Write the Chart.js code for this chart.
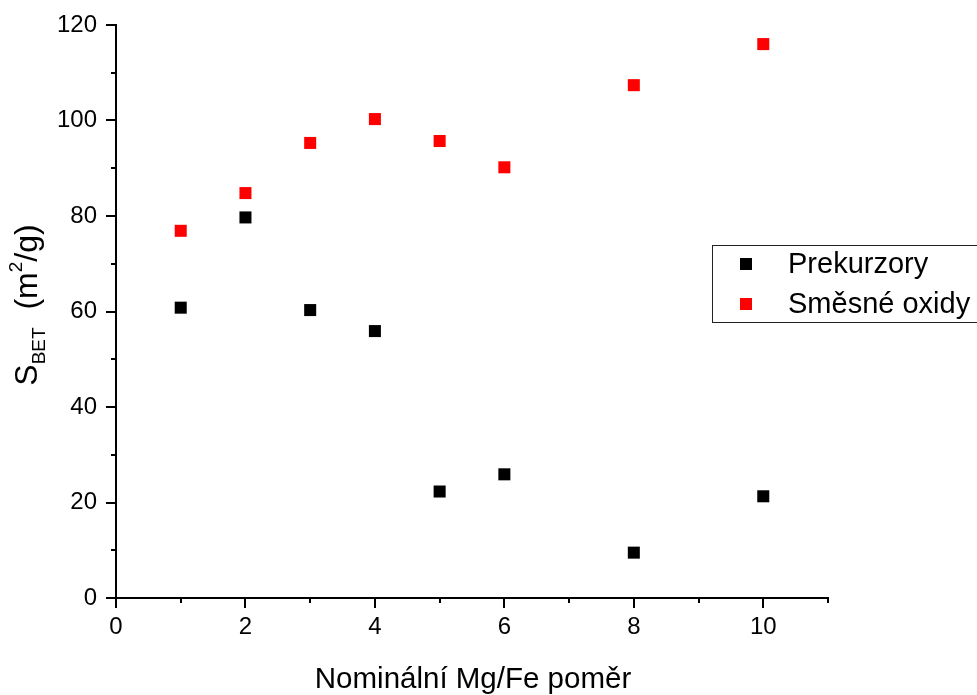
<!DOCTYPE html>
<html>
<head>
<meta charset="utf-8">
<script src="https://cdn.jsdelivr.net/npm/chart.js@4.4.0/dist/chart.umd.min.js"></script>
<style>
  body { margin: 0; background: #fff; }
</style>
</head>
<body>
<canvas id="chartCanvas" width="977" height="695"></canvas>
<script>
"use strict";

const ratios = [1, 2, 3, 4, 5, 6, 8, 10];
const prekurzory = [60.8, 79.7, 60.3, 55.9, 22.3, 25.9, 9.5, 21.3];
const smesneOxidy = [76.9, 84.8, 95.3, 100.3, 95.7, 90.2, 107.4, 116.0];
const seriesLabels = ["Prekurzory", "Směsné oxidy"];
const seriesColors = ["#000000", "#ff0000"];
const xTitle = "Nominální Mg/Fe poměr";

const FONT = "'Liberation Sans', Arial, sans-serif";

function toPoints(xs, ys) {
  return xs.map((x, i) => ({ x: x, y: ys[i] }));
}

// tick marks (major + minor), axis titles and legend box
const decorations = {
  id: "decorations",
  afterDraw(chart) {
    const ctx = chart.ctx;
    const xs = chart.scales.x;
    const ys = chart.scales.y;
    const area = chart.chartArea;

    ctx.save();
    ctx.strokeStyle = "#000";
    ctx.lineWidth = 2;
    ctx.beginPath();
    for (let v = 0; v <= 120; v += 10) {
      const y = Math.round(ys.getPixelForValue(v));
      const len = v % 20 === 0 ? 10 : 5;
      ctx.moveTo(area.left, y);
      ctx.lineTo(area.left - len, y);
    }
    for (let v = 0; v <= 11; v += 1) {
      const x = Math.round(xs.getPixelForValue(v));
      const len = v % 2 === 0 ? 10 : 5;
      ctx.moveTo(x, area.bottom);
      ctx.lineTo(x, area.bottom + len);
    }
    ctx.stroke();

    // x title
    ctx.fillStyle = "#000";
    ctx.font = "29.5px " + FONT;
    ctx.textAlign = "center";
    ctx.textBaseline = "alphabetic";
    ctx.fillText(xTitle, 473, 688);

    // y title: S_BET (m^2/g)
    const big = "32px " + FONT;
    const small = "19px " + FONT;
    const parts = [
      { t: "S", f: big, dy: 0 },
      { t: "BET", f: small, dy: 8 },
      { t: "  (m", f: big, dy: 0 },
      { t: "2", f: small, dy: -15 },
      { t: "/g)", f: big, dy: 0 }
    ];
    let total = 0;
    parts.forEach(p => {
      ctx.font = p.f;
      p.w = ctx.measureText(p.t).width;
      total += p.w;
    });
    ctx.translate(37, 305);
    ctx.rotate(-Math.PI / 2);
    ctx.textAlign = "left";
    let px = -total / 2;
    parts.forEach(p => {
      ctx.font = p.f;
      ctx.fillText(p.t, px, p.dy);
      px += p.w;
    });
    ctx.restore();

    // legend
    ctx.save();
    ctx.strokeStyle = "#222";
    ctx.lineWidth = 1;
    ctx.strokeRect(712.5, 245.5, 290, 77);
    const rows = [264, 304];
    ctx.font = "29px " + FONT;
    ctx.textBaseline = "middle";
    ctx.textAlign = "left";
    seriesLabels.forEach((lab, i) => {
      ctx.fillStyle = seriesColors[i];
      ctx.fillRect(740, rows[i] - 6, 12, 12);
      ctx.fillStyle = "#000";
      ctx.fillText(lab, 788, rows[i] + 1);
    });
    ctx.restore();
  }
};

document.addEventListener("DOMContentLoaded", () => {
  const ctx = document.querySelector("#chartCanvas").getContext("2d");

  new Chart(ctx, {
    type: "scatter",
    data: {
      datasets: [
        {
          label: seriesLabels[0],
          data: toPoints(ratios, prekurzory),
          backgroundColor: seriesColors[0],
          pointStyle: "rect",
          pointRadius: 8.5,
          borderWidth: 0
        },
        {
          label: seriesLabels[1],
          data: toPoints(ratios, smesneOxidy),
          backgroundColor: seriesColors[1],
          pointStyle: "rect",
          pointRadius: 8.5,
          borderWidth: 0
        }
      ]
    },
    options: {
      responsive: false,
      animation: false,
      layout: {
        padding: { top: 25, right: 149, bottom: 0, left: 0 }
      },
      plugins: {
        legend: { display: false },
        tooltip: { enabled: false }
      },
      scales: {
        x: {
          type: "linear",
          min: 0,
          max: 11,
          afterFit: scale => {
            scale.height = 97;
            scale.paddingLeft = 0;
            scale.paddingRight = 0;
          },
          grid: { display: false, drawTicks: false },
          border: { display: true, color: "#000", width: 2 },
          ticks: {
            stepSize: 2,
            padding: 15,
            color: "#000",
            font: { family: FONT, size: 24 },
            callback: v => (v % 2 === 0 ? v : null)
          }
        },
        y: {
          min: 0,
          max: 120,
          afterFit: scale => {
            scale.width = 116;
            scale.paddingTop = 0;
            scale.paddingBottom = 0;
          },
          grid: { display: false, drawTicks: false },
          border: { display: true, color: "#000", width: 2 },
          ticks: {
            stepSize: 20,
            padding: 19,
            color: "#000",
            font: { family: FONT, size: 24 }
          }
        }
      }
    },
    plugins: [decorations]
  });
});
</script>
</body>
</html>
